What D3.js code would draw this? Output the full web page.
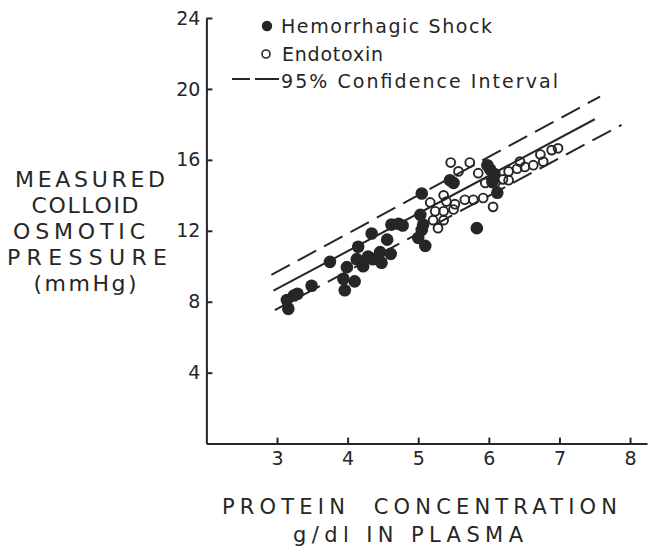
<!DOCTYPE html>
<html>
<head>
<meta charset="utf-8">
<script src="https://cdn.jsdelivr.net/npm/d3@7"></script>
<style>
  html, body { margin: 0; padding: 0; background: #ffffff; }
  svg { display: block; }
  text { font-family: "DejaVu Sans", "Liberation Sans", sans-serif; fill: #262626; }
</style>
</head>
<body>
<svg id="chart" width="651" height="549"></svg>
<script>
// ---------------- data ----------------
const xTicks = [3, 4, 5, 6, 7, 8];
const yTicks = [4, 8, 12, 16, 20, 24];

const hemorrhagicShock = [
  [3.16, 7.6], [3.14, 8.1], [3.24, 8.35], [3.29, 8.45], [3.49, 8.9],
  [3.75, 10.25], [3.94, 9.3], [3.96, 8.65], [4.10, 9.15], [3.99, 9.95],
  [4.13, 10.4], [4.15, 11.1], [4.22, 10.0], [4.29, 10.55], [4.34, 11.85],
  [4.36, 10.4], [4.46, 10.8], [4.48, 10.2], [4.56, 11.5], [4.61, 10.7],
  [4.62, 12.35], [4.72, 12.4], [4.78, 12.3], [5.00, 11.6], [5.03, 12.9],
  [5.05, 12.05], [5.10, 11.15], [5.05, 14.1], [5.07, 12.35], [5.45, 14.85],
  [5.50, 14.7], [5.98, 15.7], [6.02, 15.45], [6.08, 15.2], [6.05, 14.75],
  [6.12, 14.15], [5.83, 12.15]
];

const endotoxin = [
  [5.46, 15.85], [5.73, 15.85], [5.57, 15.35], [5.85, 15.25], [5.95, 14.7],
  [6.09, 14.7], [6.28, 15.35], [6.28, 14.85], [5.36, 14.0], [5.17, 13.6],
  [5.40, 13.65], [5.52, 13.5], [5.66, 13.75], [5.78, 13.75], [5.92, 13.85],
  [5.24, 13.1], [5.36, 13.1], [5.50, 13.2], [5.21, 12.6], [5.36, 12.6],
  [5.28, 12.15], [6.06, 13.35], [6.40, 15.5], [6.51, 15.6], [6.63, 15.7],
  [6.73, 16.3], [6.77, 15.9], [6.89, 16.55], [6.98, 16.65], [6.44, 15.9],
  [6.20, 14.9]
];

const regressionLine = [[2.95, 8.62], [7.50, 18.29]];
const upperConfidence = [[2.92, 9.51], [7.575, 19.57]];
const lowerConfidence = [[2.97, 7.53], [7.88, 17.97]];

const legendLabels = ["Hemorrhagic Shock", "Endotoxin", "95% Confidence Interval"];
const yTitleLines = ["MEASURED", "COLLOID", "OSMOTIC", "PRESSURE", "(mmHg)"];
const xTitleLines = ["PROTEIN  CONCENTRATION", "g/dl IN PLASMA"];

// ---------------- layout ----------------
const ink = "#262626";
const svg = d3.select("#chart");

const x = d3.scaleLinear().domain([2, 8.24]).range([206.4, 647]);
const y = d3.scaleLinear().domain([0, 24]).range([443.6, 18]);

// axes
const xAxis = d3.axisBottom(x).tickValues(xTicks).tickFormat(d3.format("d"))
  .tickSizeInner(-6).tickSizeOuter(0).tickPadding(8);
const yAxis = d3.axisLeft(y).tickValues(yTicks).tickFormat(d3.format("d"))
  .tickSizeInner(-6).tickSizeOuter(0).tickPadding(6);

const gx = svg.append("g").attr("transform", `translate(0,${y(0)})`).call(xAxis);
const gy = svg.append("g").attr("transform", `translate(${x(2)},0)`).call(yAxis);

[gx, gy].forEach(g => {
  g.select(".domain").attr("stroke", ink).attr("stroke-width", 2);
  g.selectAll(".tick line").attr("stroke", ink).attr("stroke-width", 2);
  g.selectAll(".tick text").attr("fill", ink)
    .style("font-family", "'DejaVu Sans', sans-serif")
    .style("font-size", "19px");
});

// lines
const line = d3.line().x(d => x(d[0])).y(d => y(d[1]));
svg.append("path").datum(regressionLine).attr("d", line)
  .attr("fill", "none").attr("stroke", ink).attr("stroke-width", 2);
svg.append("path").datum(upperConfidence).attr("d", line)
  .attr("fill", "none").attr("stroke", ink).attr("stroke-width", 2)
  .attr("stroke-dasharray", "21 9");
svg.append("path").datum(lowerConfidence).attr("d", line)
  .attr("fill", "none").attr("stroke", ink).attr("stroke-width", 2)
  .attr("stroke-dasharray", "21 9");

// points
svg.append("g").selectAll("circle").data(hemorrhagicShock).join("circle")
  .attr("cx", d => x(d[0])).attr("cy", d => y(d[1])).attr("r", 6.3)
  .attr("fill", ink);
svg.append("g").selectAll("circle").data(endotoxin).join("circle")
  .attr("cx", d => x(d[0])).attr("cy", d => y(d[1])).attr("r", 4.4)
  .attr("fill", "none").attr("stroke", ink).attr("stroke-width", 1.9);

// legend
const lg = svg.append("g");
lg.append("circle").attr("cx", 267).attr("cy", 26).attr("r", 5.2).attr("fill", ink);
lg.append("circle").attr("cx", 266).attr("cy", 54).attr("r", 4)
  .attr("fill", "none").attr("stroke", ink).attr("stroke-width", 1.6);
lg.append("line").attr("x1", 232).attr("x2", 250).attr("y1", 79).attr("y2", 79)
  .attr("stroke", ink).attr("stroke-width", 2);
lg.append("line").attr("x1", 255).attr("x2", 279).attr("y1", 79).attr("y2", 79)
  .attr("stroke", ink).attr("stroke-width", 2);
const legendPos = [[281, 33, 211], [282, 61, 101], [281, 88, 277]];
legendLabels.forEach((t, i) => {
  lg.append("text").attr("x", legendPos[i][0]).attr("y", legendPos[i][1])
    .attr("textLength", legendPos[i][2]).attr("lengthAdjust", "spacing")
    .style("font-size", "19px").text(t);
});

// y title
const yTitlePos = [[90, 187, 150], [85, 213, 107], [79, 239, 132], [87, 265, 160], [85, 291, 103]];
yTitleLines.forEach((t, i) => {
  svg.append("text").attr("x", yTitlePos[i][0]).attr("y", yTitlePos[i][1])
    .attr("text-anchor", "middle")
    .attr("textLength", yTitlePos[i][2]).attr("lengthAdjust", "spacing")
    .style("font-size", "22px").text(t);
});

// x title
const xTitlePos = [[419.5, 514, 395], [408, 542, 230]];
xTitleLines.forEach((t, i) => {
  svg.append("text").attr("x", xTitlePos[i][0]).attr("y", xTitlePos[i][1])
    .attr("text-anchor", "middle")
    .style("white-space", "pre")
    .attr("textLength", xTitlePos[i][2]).attr("lengthAdjust", "spacing")
    .style("font-size", "21px").text(t);
});
</script>
</body>
</html>
